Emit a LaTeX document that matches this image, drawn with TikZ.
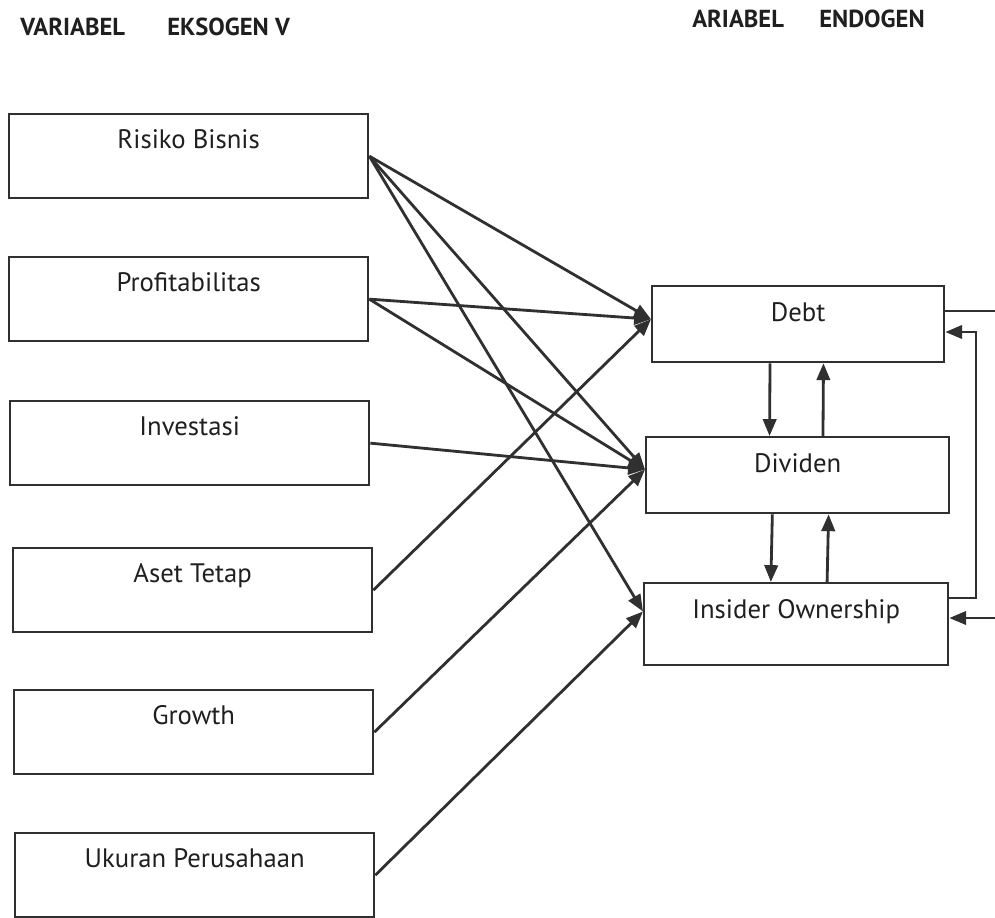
\documentclass[tikz,border=0pt]{standalone}
\usepackage{fontspec}
\setmainfont{PT Sans}
\usetikzlibrary{arrows.meta}
\definecolor{ink}{HTML}{303030}
\definecolor{textink}{HTML}{1f1f1f}

\tikzset{
  exo/.style={draw=ink, line width=1.6pt, anchor=north west, inner sep=0pt,
    minimum width=8.975cm, text height=0.85cm, text depth=1.25cm,
    text=textink, font=\fontsize{19}{22}\selectfont},
  endo/.style={exo, text height=0.875cm, text depth=1.025cm},
  head/.style={anchor=base west, text=textink, inner sep=0pt,
    font=\fontsize{17.5}{20}\selectfont\bfseries},
  conn/.style={draw=ink, line width=2pt},
  >={Triangle[length=12pt,width=9.5pt]}
}

\begin{document}
\begin{tikzpicture}[x=0.025cm,y=-0.025cm]

\useasboundingbox (0,0) rectangle (995,917);

\node[head] (h1) at (20,35) {VARIABEL};
\node[head] (h2) at (167,35) {EKSOGEN V};
\node[head] (h3) at (692,27) {ARIABEL};
\node[head] (h4) at (819,27) {ENDOGEN};

\node[exo] (risk) at (8,113) {Risiko Bisnis};
\node[exo] (prof) at (8,256) {Profitabilitas};
\node[exo] (inv) at (9,400) {Investasi};
\node[exo] (aset) at (12,547) {Aset Tetap};
\node[exo] (grow) at (13,689) {Growth};
\node[exo] (size) at (14,832) {Ukuran Perusahaan};

\node[endo, minimum width=7.3cm] (debt) at (651,285) {Debt};
\node[endo, minimum width=7.575cm] (div) at (645,436) {Dividen};
\node[endo, minimum width=7.6cm, text depth=1.175cm] (ins) at (643,582) {Insider Ownership};

\draw[conn,->] (risk.east) -- ([yshift=3.5pt]debt.west);
\draw[conn,->] (risk.east) -- ([yshift=4pt]div.west);
\draw[conn,->] (risk.east) -- ([yshift=9pt]ins.west);
\draw[conn,->] (prof.east) -- ([yshift=3.5pt]debt.west);
\draw[conn,->] (prof.east) -- ([yshift=4pt]div.west);
\draw[conn,->] (inv.east) -- ([yshift=4pt]div.west);
\draw[conn,->] (aset.east) -- ([yshift=3.5pt]debt.west);
\draw[conn,->] (grow.east) -- ([yshift=4pt]div.west);
\draw[conn,->] (size.east) -- ([yshift=9pt]ins.west);

\draw[conn,->] ([xshift=-20pt]debt.south) -- ([xshift=-20pt]div.north);
\draw[conn,->] ([xshift=18pt]div.north) -- ([xshift=18pt]debt.south);
\draw[conn,->] ([xshift=-18pt]div.south) -- ([xshift=-18pt]ins.north);
\draw[conn,->] ([xshift=22pt]ins.north) -- ([xshift=22pt]div.south);

\coordinate (out1) at (995,311);
\coordinate (back) at (976,598);
\coordinate (up) at (976,332);
\coordinate (in2) at (995,618);

\draw[conn] (out1 -| debt.east) -- (out1);
\draw[conn,->] (ins.east |- back) -- (back) -- (up) -- (debt.east |- up);
\draw[conn,->] (in2) -- (ins.east |- in2);

\end{tikzpicture}
\end{document}
